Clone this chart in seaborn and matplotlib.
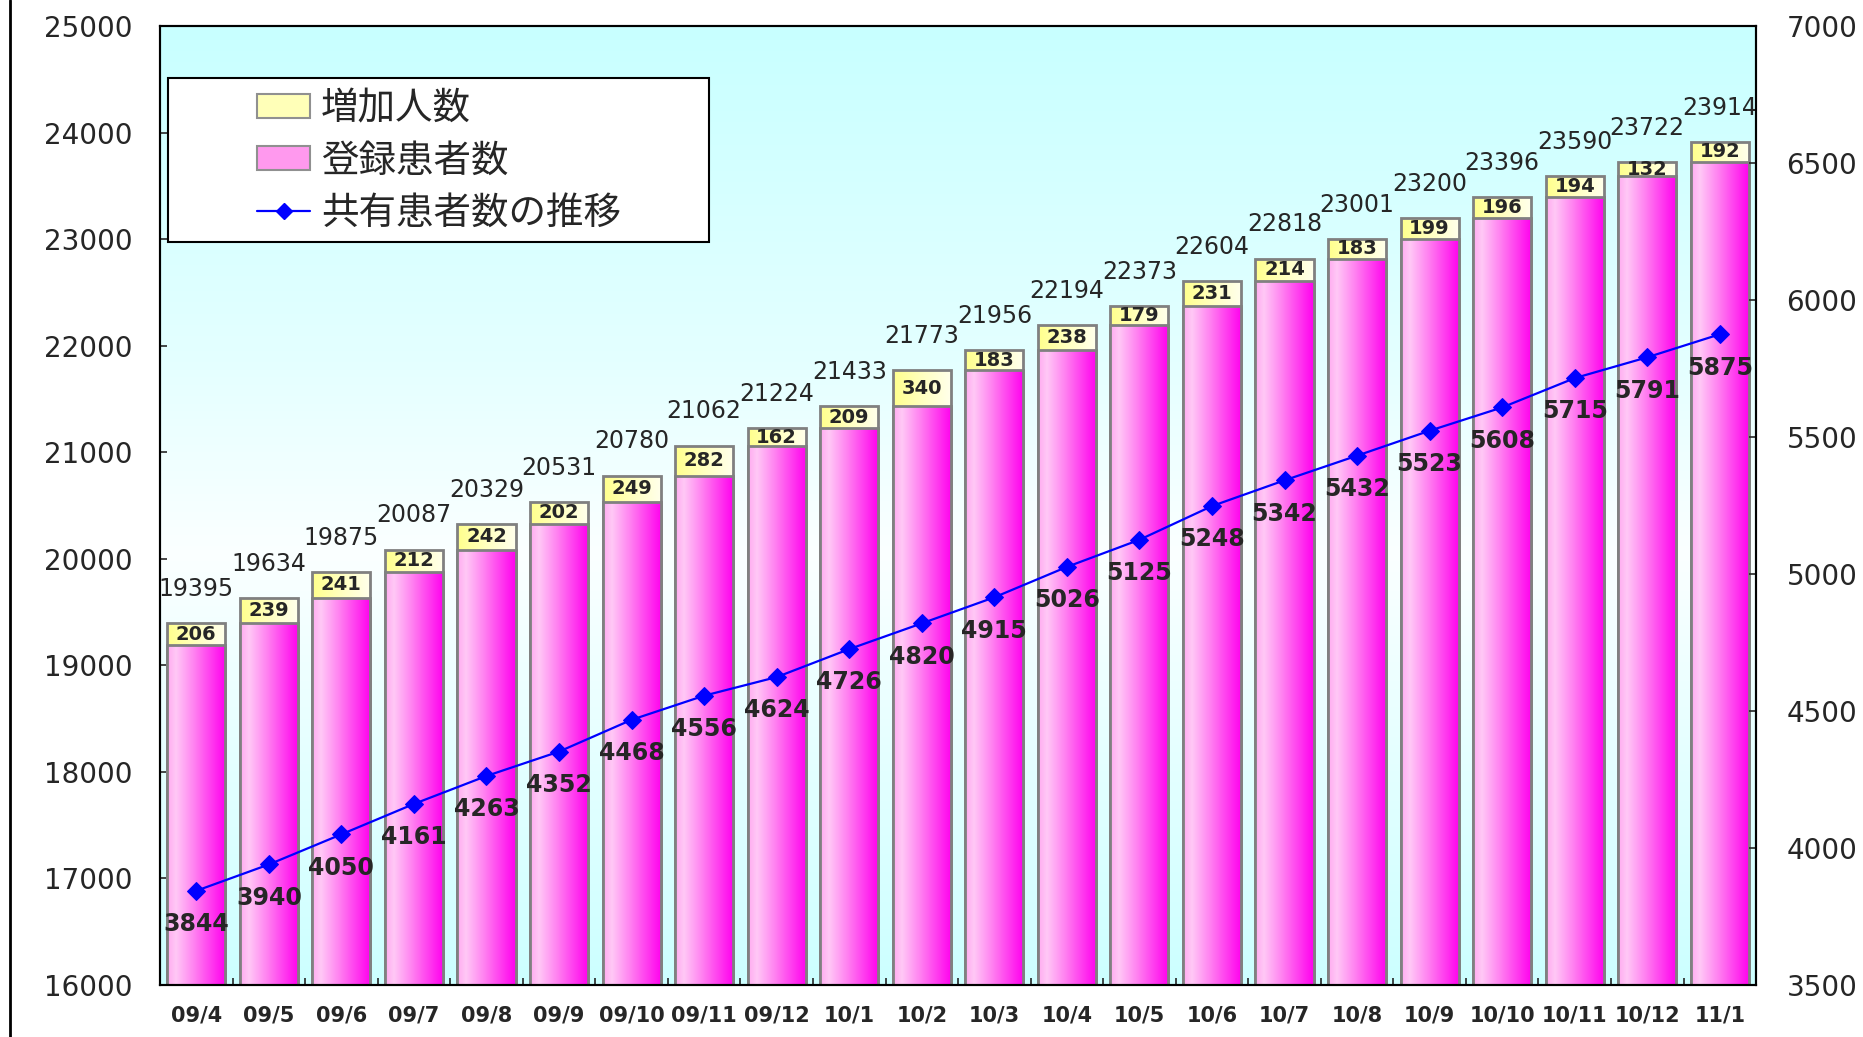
import numpy as np
import pandas as pd
import matplotlib
matplotlib.use('Agg')
import matplotlib.pyplot as plt
import seaborn as sns
from matplotlib.colors import LinearSegmentedColormap
from matplotlib.patches import Patch, Rectangle
from matplotlib.lines import Line2D

# data
months = ['09/4', '09/5', '09/6', '09/7', '09/8', '09/9', '09/10', '09/11', '09/12',
          '10/1', '10/2', '10/3', '10/4', '10/5', '10/6', '10/7', '10/8', '10/9',
          '10/10', '10/11', '10/12', '11/1']
totals = [19395, 19634, 19875, 20087, 20329, 20531, 20780, 21062, 21224, 21433, 21773,
          21956, 22194, 22373, 22604, 22818, 23001, 23200, 23396, 23590, 23722, 23914]
increase = [206, 239, 241, 212, 242, 202, 249, 282, 162, 209, 340,
            183, 238, 179, 231, 214, 183, 199, 196, 194, 132, 192]
shared = [3844, 3940, 4050, 4161, 4263, 4352, 4468, 4556, 4624, 4726, 4820,
          4915, 5026, 5125, 5248, 5342, 5432, 5523, 5608, 5715, 5791, 5875]
registered = [t - i for t, i in zip(totals, increase)]

labels = ['増加人数', '登録患者数', '共有患者数の推移']

df = pd.DataFrame({'month': months, 'total': totals, 'registered': registered})

sns.set_style('white')
plt.rcParams['font.family'] = ['DejaVu Sans', 'Noto Sans CJK JP']

fig = plt.figure(figsize=(18.63, 10.37), dpi=100)
ax = fig.add_axes([0.0859, 0.0501, 0.8567, 0.9248])

# background gradient
bg_cmap = LinearSegmentedColormap.from_list(
    'bg', [(0, '#c8ffff'), (0.35, '#e4ffff'), (0.55, '#fbffff'), (1, '#ccffff')])
ax.imshow(np.linspace(0, 1, 256).reshape(-1, 1), cmap=bg_cmap, aspect='auto',
          extent=[0, 1, 0, 1], transform=ax.transAxes, zorder=0)

yellow_cmap = LinearSegmentedColormap.from_list('yel', ['#ffff8c', '#ffffc0', '#ffffec'])
pink_cmap = LinearSegmentedColormap.from_list(
    'pink', [(0, '#ffaaf0'), (0.15, '#ffc8f6'), (0.5, '#ff78f0'), (1, '#ff00ee')])

n = len(months)
sns.barplot(data=df, x='month', y='total', color='#ffff99', width=0.8, saturation=1,
            edgecolor='#808080', linewidth=2, ax=ax)
sns.barplot(data=df, x='month', y='registered', color='#ff88ee', width=0.8, saturation=1,
            edgecolor='#808080', linewidth=2, ax=ax)
yellow_bars = ax.patches[:n]
pink_bars = ax.patches[n:2 * n]


def fill_gradient(patch, cmap, z):
    x0 = patch.get_x()
    w = patch.get_width()
    h = patch.get_height()
    grad = np.linspace(0, 1, 128).reshape(1, -1)
    im = ax.imshow(grad, cmap=cmap, aspect='auto', extent=[x0, x0 + w, 16000, h],
                   origin='lower', zorder=z, interpolation='bilinear')
    im.set_clip_path(patch)
    patch.set_facecolor('none')
    patch.set_zorder(z + 0.05)


for p in yellow_bars:
    fill_gradient(p, yellow_cmap, 1.0)
for p in pink_bars:
    fill_gradient(p, pink_cmap, 1.1)

# labels on bars
for i, p in enumerate(yellow_bars):
    cx = p.get_x() + p.get_width() / 2
    ax.annotate(str(totals[i]), (cx, totals[i]), xytext=(0, 16), textcoords='offset points',
                ha='center', va='bottom', fontsize=17, zorder=3)
    ax.text(cx, registered[i] + increase[i] / 2, str(increase[i]), ha='center', va='center',
            fontsize=14, fontweight='bold', zorder=3)

ax.set_xlim(-0.5, n - 0.5)
ax.set_ylim(16000, 25000)
ax.set_yticks(range(16000, 25001, 1000))
ax.set_xticks(range(n))
ax.set_xticklabels(months, fontsize=15, fontweight='bold')
ax.set_xticks(np.arange(0.5, n - 1, 1), minor=True)
ax.tick_params(axis='x', which='major', length=0, pad=15)
ax.tick_params(axis='x', which='minor', direction='in', length=5, width=1.2, bottom=True)
ax.tick_params(axis='y', direction='in', length=5, width=1.2, labelsize=20, pad=20, left=True)
ax.set_xlabel('')
ax.set_ylabel('')

# line on right axis
ax2 = ax.twinx()
sns.lineplot(x=months, y=shared, ax=ax2, color='#0000ff', marker='D', markersize=9,
             markeredgecolor='#0000ff', linewidth=1.6, sort=False, legend=False)
for i, v in enumerate(shared):
    ax2.annotate(str(v), (i, v), xytext=(0, -24), textcoords='offset points',
                 ha='center', va='center', fontsize=17, fontweight='bold')
ax2.set_ylim(3500, 7000)
ax2.set_yticks(range(3500, 7001, 500))
ax2.tick_params(axis='y', direction='in', length=5, width=1.2, labelsize=20, pad=22, right=True)
ax2.set_ylabel('')

for a in (ax, ax2):
    for s in a.spines.values():
        s.set_color('black')
        s.set_linewidth(1.5)

# legend
ax2.add_patch(Rectangle((0.0047, 0.7748), 0.339, 0.1706, transform=ax2.transAxes,
                        facecolor='white', edgecolor='black', linewidth=1.5, zorder=4))
handles = [Patch(facecolor='#ffffb8', edgecolor='#909090', linewidth=1.5),
           Patch(facecolor='#ff99ee', edgecolor='#909090', linewidth=1.5),
           Line2D([], [], color='#0000ff', marker='D', markersize=8, linewidth=1.6)]
leg = ax2.legend(handles, labels, loc='upper left', bbox_to_anchor=(0.061, 0.932),
                 frameon=False, fontsize=27, handlelength=1.4, handleheight=0.6,
                 handletextpad=0.3, labelspacing=0.43, borderpad=0, borderaxespad=0)
leg.set_zorder(5)

fig.add_artist(Line2D([0.0054, 0.0054], [0, 1], transform=fig.transFigure,
                      color='black', linewidth=2))

fig.savefig('out.png', dpi=100)
